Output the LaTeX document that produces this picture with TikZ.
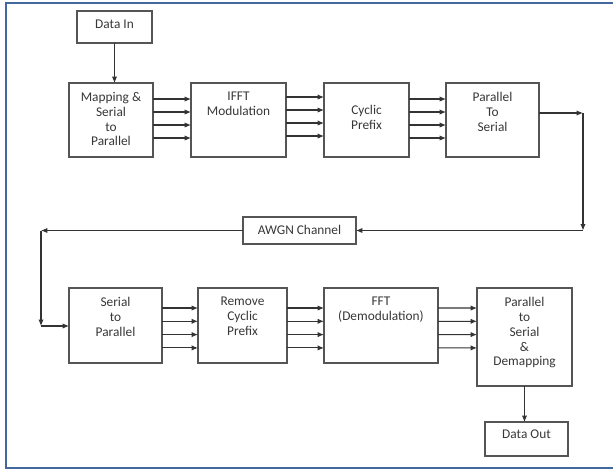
\documentclass[tikz,border=0pt]{standalone}
\usepackage{fontspec}
\setmainfont{Carlito}
\usetikzlibrary{arrows.meta,calc}
\definecolor{framecol}{RGB}{66,104,158}
\definecolor{boxcol}{RGB}{85,85,85}
\definecolor{txtcol}{RGB}{55,55,55}

\begin{document}
\begin{tikzpicture}[x=0.02cm, y=-0.02cm, font=\fontsize{7.6}{8.5}\selectfont,
	blk/.style={draw=boxcol, line width=0.6pt, inner sep=0pt, outer sep=0pt},
	txt/.style={anchor=north, inner sep=0pt, yshift=-4.9pt, align=center, text=txtcol},
	arr/.style={draw=black!80, line width=0.6pt, -{Latex[length=3.6pt,width=3pt]}}]
	\useasboundingbox (0,0) rectangle (613,470);
	\draw[framecol, line width=1.5pt] (613,3) -- (6,3) -- (6,468) -- (613,468);

	% transmitter
	\node[blk, minimum width=1.5cm, minimum height=0.64cm, label={[txt]north:{Data In}}] (din) at (114.5,27) {};
	\node[blk, minimum width=1.68cm, minimum height=1.48cm, label={[txt]north:{Mapping \&\\Serial\\to\\Parallel}}] (map) at (111,120) {};
	\node[blk, minimum width=1.9cm, minimum height=1.48cm, label={[txt]north:{IFFT\\Modulation}}] (ifft) at (238.5,120) {};
	\node[blk, minimum width=1.7cm, minimum height=1.48cm, label={[txt, yshift=-7.5pt]north:{Cyclic\\Prefix}}] (cp) at (366.5,120) {};
	\node[blk, minimum width=1.86cm, minimum height=1.48cm, label={[txt]north:{Parallel\\To\\Serial}}] (pts) at (492.5,120) {};

	% channel
	\node[blk, minimum width=2.26cm, minimum height=0.54cm, label={[txt, yshift=0.6pt]north:{AWGN Channel}}] (awgn) at (299.5,230.5) {};

	% receiver
	\node[blk, minimum width=1.86cm, minimum height=1.5cm, label={[txt]north:{Serial\\to\\Parallel}}] (stp) at (115.5,325.5) {};
	\node[blk, minimum width=1.78cm, minimum height=1.5cm, label={[txt]north:{Remove\\Cyclic\\Prefix}}] (rcp) at (242.5,325.5) {};
	\node[blk, minimum width=2.28cm, minimum height=1.5cm, label={[txt]north:{FFT\\(Demodulation)}}] (fft) at (381,325.5) {};
	\node[blk, minimum width=1.9cm, minimum height=1.96cm, label={[txt]north:{Parallel\\to\\Serial\\\&\\Demapping}}] (dmap) at (524.5,337) {};
	\node[blk, minimum width=1.66cm, minimum height=0.68cm, label={[txt, yshift=0.6pt]north:{Data Out}}] (dout) at (526.5,439) {};

	\coordinate (tr) at (583,113);
	\coordinate (br) at (583,230.5);
	\coordinate (tl) at (41,230.5);
	\coordinate (bl) at (41,326);

	\draw[arr] (din.south) -- (din.south |- map.north);
	\foreach \a/\b/\s in {map/ifft/16, ifft/cp/14, cp/pts/16}
		\foreach \k in {0,1,2,3}
			\draw[arr] ($(\a.north east)+(0,\s+13*\k)$) -- ($(\b.north west)+(0,\s+13*\k)$);
	\draw[arr] (pts.east |- tr) -- (tr);
	\draw[arr] (tr) -- (br);
	\draw[arr] (br) -- (awgn.east);
	\draw[arr] (awgn.west) -- (tl);
	\draw[arr] (tl) -- (bl);
	\draw[arr] (bl) -- (stp.west |- bl);
	\foreach \a/\b in {stp/rcp, rcp/fft, fft/dmap}
		\foreach \k in {0,1,2,3}
			\draw[arr] ($(\a.north east)+(0,20+13.3*\k)$) -- ($(\b.north west)+(0,20+13.3*\k)$);
	\draw[arr] (dmap.south) -- (dmap.south |- dout.north);
\end{tikzpicture}
\end{document}
